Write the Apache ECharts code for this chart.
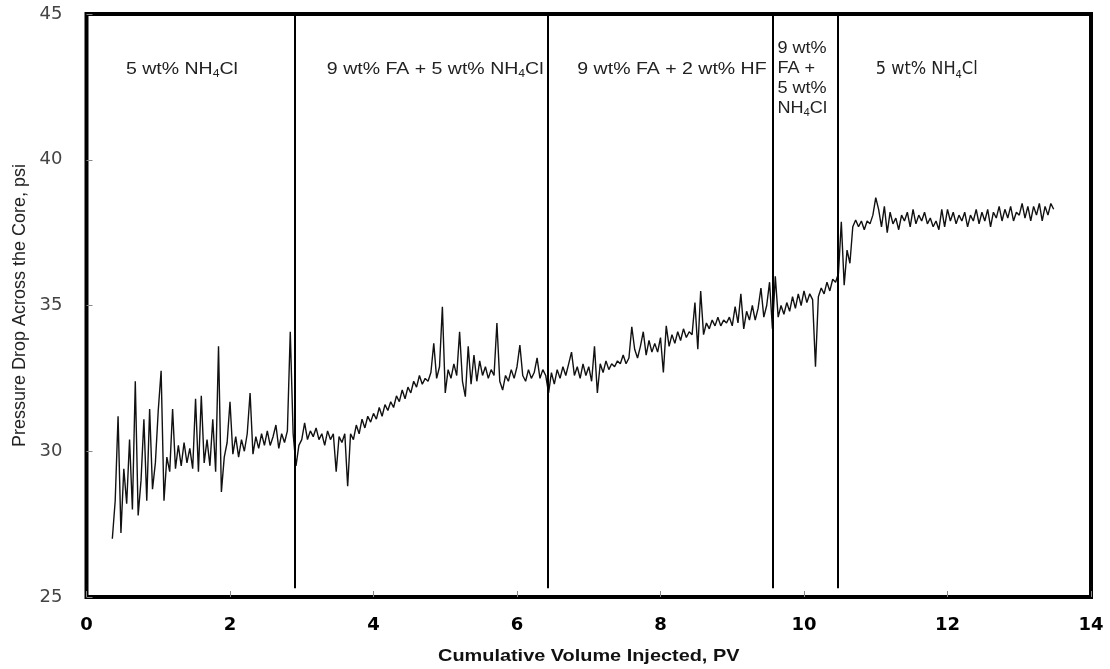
<!DOCTYPE html>
<html>
<head>
<meta charset="utf-8">
<script src="https://cdn.jsdelivr.net/npm/echarts@6/dist/echarts.min.js"></script>
<style>html,body{margin:0;padding:0;background:#fff}#c{width:1110px;height:669px}</style>
</head>
<body>
<div id="c"></div>
<script>
// Sample positions (PV) start and spacing
const PV_START = 0.36;
const PV_STEP = 0.04;
// Pressure drop readings, psi (each row = 10 samples)
const pressure = [
  27.0,28.3,31.2,27.2,29.4,28.2,30.4,28.0,32.4,27.8,
  29.0,31.1,28.3,31.45,28.7,29.6,31.4,32.76,28.3,29.8,
  29.3,31.45,29.4,30.2,29.5,30.3,29.6,30.1,29.4,31.8,
  29.3,31.9,29.6,30.4,29.5,31.1,29.3,33.6,28.6,29.8,
  30.3,31.7,29.9,30.5,29.8,30.4,30.0,30.6,32.0,29.9,
  30.5,30.1,30.6,30.2,30.7,30.2,30.5,30.9,30.1,30.6,
  30.3,30.7,34.1,30.6,29.5,30.2,30.4,30.97,30.4,30.7,
  30.5,30.8,30.4,30.6,30.2,30.7,30.4,30.6,29.3,30.5,
  30.3,30.6,28.8,30.6,30.4,30.9,30.6,31.1,30.8,31.2,
  31.0,31.3,31.1,31.5,31.2,31.6,31.4,31.7,31.5,31.9,
  31.7,32.1,31.8,32.2,32.0,32.4,32.2,32.6,32.3,32.5,
  32.4,32.7,33.7,32.5,32.9,34.96,32.0,32.8,32.5,33.0,
  32.6,34.1,32.4,31.87,33.6,32.3,33.3,32.4,33.1,32.6,
  32.9,32.5,32.8,32.6,34.4,32.4,32.1,32.6,32.4,32.8,
  32.5,32.9,33.64,32.6,32.4,32.8,32.5,32.7,33.2,32.5,
  32.8,32.6,32.0,32.7,32.3,32.8,32.5,32.9,32.6,33.0,
  33.4,32.6,32.9,32.5,33.0,32.6,32.9,32.4,33.6,32.0,
  33.0,32.7,33.1,32.8,33.0,32.9,33.1,33.0,33.3,33.0,
  33.2,34.27,33.5,33.2,33.6,34.1,33.3,33.8,33.4,33.7,
  33.4,33.9,32.7,34.3,33.6,34.0,33.7,34.1,33.8,34.2,
  33.9,34.1,34.0,35.1,33.5,35.5,34.0,34.4,34.2,34.5,
  34.3,34.6,34.3,34.5,34.4,34.6,34.3,34.96,34.4,35.4,
  34.2,34.8,34.5,35.0,34.5,34.9,35.6,34.6,35.0,35.8,
  34.2,36.0,34.6,35.0,34.7,35.1,34.8,35.3,34.9,35.4,
  35.0,35.5,35.1,35.4,35.2,32.9,35.3,35.6,35.4,35.8,
  35.5,35.9,35.8,36.1,37.87,35.7,36.9,36.45,37.7,37.93,
  37.7,37.9,37.6,37.9,37.8,38.1,38.7,38.3,37.7,38.4,
  37.5,38.2,37.8,38.0,37.6,38.1,37.9,38.2,37.7,38.3,
  37.8,38.1,37.9,38.2,37.8,38.0,37.7,37.9,37.6,38.3,
  37.7,38.3,37.9,38.2,37.8,38.1,37.9,38.2,37.7,38.1,
  37.9,38.3,37.8,38.2,37.9,38.3,37.7,38.2,38.0,38.4,
  37.9,38.3,38.0,38.4,37.9,38.2,38.1,38.5,38.0,38.4,
  37.9,38.4,38.1,38.5,37.9,38.4,38.1,38.5,38.3
];
// Boundaries between injected fluids (PV)
const stageBoundaries = [2.9, 6.43, 9.57, 10.47];
// Stage labels
const stageLabels = [
  '{n|5 wt% NH}{s|4}{n|Cl}',
  '{n|9 wt% FA + 5 wt% NH}{s|4}{n|Cl}',
  '{n|9 wt% FA + 2 wt% HF}',
  '{m|9 wt%}\n{m|FA +}\n{m|5 wt%}\n{m|NH}{t|4}{m|Cl}',
  '{w|5 wt% NH}{u|4}{w|Cl}'
];
const xTicks = [0, 2, 4, 6, 8, 10, 12, 14];
const yTicks = [25, 30, 35, 40, 45];
const xTitle = 'Cumulative Volume Injected, PV';
const yTitle = 'Pressure Drop Across the Core, psi';

const seriesData = pressure.map((v, i) => [+(PV_START + i * PV_STEP).toFixed(2), v]);

const labelFont = 'Liberation Sans, Arial, sans-serif';
const narrowFont = 'Liberation Sans Narrow, DejaVu Sans Condensed, sans-serif';
const rich = {
  n: {fontSize: 16, lineHeight: 20, fill: '#222', fontFamily: labelFont},
  s: {fontSize: 10, lineHeight: 10, verticalAlign: 'bottom', fill: '#222', fontFamily: labelFont},
  m: {fontSize: 16, lineHeight: 20, fill: '#222', fontFamily: labelFont},
  t: {fontSize: 10, lineHeight: 10, verticalAlign: 'bottom', fill: '#222', fontFamily: labelFont},
  w: {fontSize: 18, lineHeight: 22, fill: '#222', fontFamily: narrowFont},
  u: {fontSize: 11, lineHeight: 11, verticalAlign: 'bottom', fill: '#222', fontFamily: narrowFont}
};
const labelAnchors = [[1.33, 43.1], [4.86, 43.1], [8.16, 43.1], [9.63, 42.78], [11.71, 43.1]];
const labelAlign = ['center', 'center', 'center', 'left', 'center'];
const labelScale = [1.22, 1.22, 1.22, 1.13, 1];

const chart = echarts.init(document.getElementById('c'));
chart.setOption({
  animation: false,
  backgroundColor: '#fff',
  grid: {left: 86.5, right: 19, top: 14, bottom: 72, show: true, borderColor: '#000', borderWidth: 4, backgroundColor: 'transparent'},
  xAxis: {
    type: 'value', min: 0, max: 14, interval: 2,
    axisLine: {show: false},
    axisTick: {show: true, inside: true, length: 6, lineStyle: {color: '#888', width: 1}},
    splitLine: {show: false},
    axisLabel: {margin: 19, fontFamily: 'DejaVu Sans, sans-serif', fontWeight: 'bold', fontSize: 18, color: '#000',
      formatter: v => xTicks.includes(v) ? String(v) : ''}
  },
  yAxis: {
    type: 'value', min: 25, max: 45, interval: 5,
    name: yTitle, nameLocation: 'middle', nameGap: 52,
    nameTextStyle: {fontFamily: labelFont, fontWeight: 'normal', fontSize: 18, color: '#222'},
    axisLine: {show: false},
    axisTick: {show: true, inside: true, length: 6, lineStyle: {color: '#888', width: 1}},
    splitLine: {show: false},
    axisLabel: {margin: 24, fontFamily: 'DejaVu Sans, sans-serif', fontSize: 18, color: '#444',
      formatter: v => yTicks.includes(v) ? String(v) : ''}
  },
  series: [{
    type: 'line',
    data: seriesData,
    showSymbol: false,
    symbol: 'none',
    lineStyle: {color: '#111', width: 1.4},
    z: 3,
    markLine: {
      silent: true,
      symbol: ['none', 'none'],
      label: {show: false},
      lineStyle: {color: '#000', width: 2, type: 'solid'},
      data: stageBoundaries.map(b => [{coord: [b, 45]}, {coord: [b, 25.3]}])
    }
  }]
});

const graphics = stageLabels.map((t, i) => {
  const p = chart.convertToPixel({gridIndex: 0}, labelAnchors[i]);
  return {
    type: 'text', x: p[0], y: p[1], scaleX: labelScale[i], z: 100, silent: true,
    style: {text: t, rich: rich, textAlign: labelAlign[i], textVerticalAlign: 'middle', fill: '#222', fontSize: 16, fontFamily: labelFont}
  };
});
const xt = chart.convertToPixel({gridIndex: 0}, [7, 25]);
graphics.push({
  type: 'text', x: xt[0], y: xt[1] + 59, scaleX: 1.17, z: 100, silent: true,
  style: {text: xTitle, textAlign: 'center', textVerticalAlign: 'middle', fill: '#111', fontSize: 17, fontWeight: 'bold', fontFamily: labelFont}
});
chart.setOption({graphic: graphics});
</script>
</body>
</html>
